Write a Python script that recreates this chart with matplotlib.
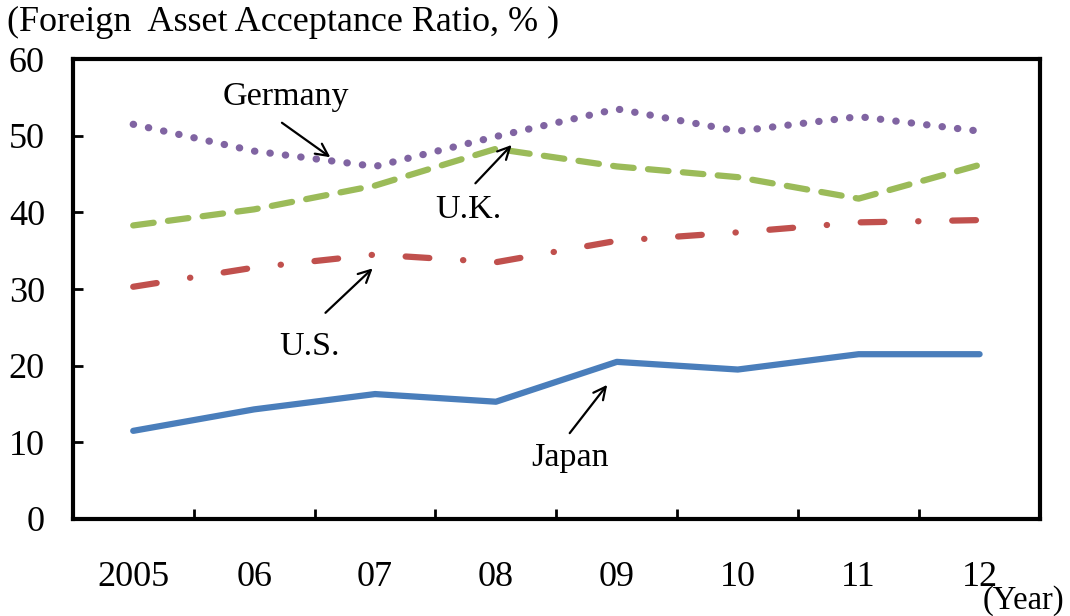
import matplotlib
matplotlib.use("Agg")
import matplotlib.pyplot as plt

plt.rcParams['font.family'] = ['Liberation Serif', 'DejaVu Serif']

years = ['2005', '06', '07', '08', '09', '10', '11', '12']
japan = [11.5, 14.3, 16.3, 15.3, 20.5, 19.5, 21.5, 21.5]
us = [30.3, 32.8, 34.5, 33.5, 36.3, 37.4, 38.7, 39.0]
uk = [38.3, 40.4, 43.5, 48.3, 46.0, 44.6, 41.8, 46.2]
germany = [51.5, 48.0, 46.0, 49.9, 53.5, 50.6, 52.5, 50.6]

x = list(range(len(years)))

fig = plt.figure(figsize=(10.7, 6.16), dpi=100)
ax = fig.add_axes([0.068, 0.1575, 0.904, 0.7465])

lw = 4.5
ax.plot(x, japan, color='#4a7ebb', lw=lw, solid_capstyle='round', solid_joinstyle='round')
ax.plot(x, us, color='#c0504d', lw=lw, dashes=(3.8, 5.4, 0.05, 5.4),
        dash_capstyle='round', dash_joinstyle='round')
ax.plot(x, uk, color='#9bbb59', lw=lw, dashes=(3.3, 2.3),
        dash_capstyle='round', dash_joinstyle='round')
ax.plot(x, germany, color='#8064a2', lw=5.2, dashes=(0.05, 2.1),
        dash_capstyle='round', dash_joinstyle='round')

ax.set_xlim(-0.5, 7.5)
ax.set_ylim(0, 60)
ax.set_yticks(range(0, 61, 10))
ax.set_xticks(x)
ax.set_xticklabels(years)
ax.set_xticks([i + 0.5 for i in range(7)], minor=True)

ax.tick_params(axis='x', which='major', length=0, pad=30, labelsize=26)
ax.tick_params(axis='x', which='minor', direction='in', length=7, width=2)
ax.tick_params(axis='y', direction='in', length=7, width=2, pad=20, labelsize=26)

for s in ax.spines.values():
    s.set_linewidth(3)

arrow = dict(arrowstyle='->', lw=1.6, color='black', mutation_scale=22, shrinkA=0, shrinkB=0)
fs = 24.5
ax.annotate('', xy=(1.63, 47.2), xytext=(1.23, 51.7), arrowprops=arrow)
ax.text(1.26, 55.1, 'Germany', fontsize=fs, ha='center', va='center')
ax.annotate('', xy=(3.13, 48.8), xytext=(2.83, 43.8), arrowprops=arrow)
ax.text(2.77, 40.4, 'U.K.', fontsize=fs, ha='center', va='center')
ax.annotate('', xy=(1.98, 32.7), xytext=(1.59, 26.9), arrowprops=arrow)
ax.text(1.46, 22.5, 'U.S.', fontsize=fs, ha='center', va='center')
ax.annotate('', xy=(3.92, 17.5), xytext=(3.61, 11.2), arrowprops=arrow)
ax.text(3.61, 8.0, 'Japan', fontsize=fs, ha='center', va='center')

fig.text(0.007, 0.963, '(Foreign  Asset Acceptance Ratio, % )', fontsize=26, ha='left', va='center')
fig.text(0.995, 0.0, '(Year)', fontsize=23.5, ha='right', va='bottom')

fig.savefig('out.png', dpi=100)
